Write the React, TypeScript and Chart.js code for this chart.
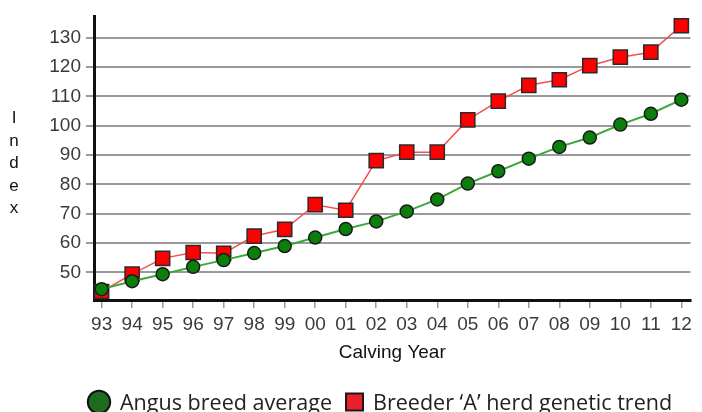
import { useEffect, useRef } from 'react';
import { Chart, registerables } from 'chart.js';

Chart.register(...registerables);

const years = ['93', '94', '95', '96', '97', '98', '99', '00', '01', '02', '03', '04', '05', '06', '07', '08', '09', '10', '11', '12'];
const angusAverage = [44.3, 47.0, 49.4, 51.9, 54.2, 56.6, 59.0, 61.9, 64.8, 67.4, 70.8, 74.9, 80.3, 84.5, 88.8, 92.8, 96.0, 100.4, 104.1, 108.9];
const breederA = [43.5, 49.4, 54.8, 56.8, 56.5, 62.4, 64.7, 73.1, 71.2, 88.1, 91.0, 91.0, 102.0, 108.4, 113.8, 115.7, 120.5, 123.4, 125.1, 134.1];
const seriesNames = ['Angus breed average', 'Breeder \u2018A\u2019 herd genetic trend'];
const xTitle = 'Calving Year';
const yTitle = 'Index';
const yStep = 10;
const yMin = 40.6;
const yMax = 137.3;

const SANS = '"Liberation Sans", Arial, Helvetica, sans-serif';
const LEGEND_FONT = '"Open Sans", "Noto Sans", sans-serif';

function fitFont(ctx: CanvasRenderingContext2D, text: string, family: string, target: number) {
  ctx.font = `20px ${family}`;
  const w = ctx.measureText(text).width;
  return (20 * target) / w;
}

const decorPlugin = {
  id: 'decor',
  afterDraw(chart: any) {
    const ctx: CanvasRenderingContext2D = chart.ctx;
    ctx.save();
    // vertical stacked y title
    ctx.fillStyle = '#111';
    ctx.font = `17px ${SANS}`;
    ctx.textAlign = 'center';
    ctx.textBaseline = 'alphabetic';
    yTitle.split('').forEach((ch, i) => ctx.fillText(ch, 14, 123 + i * 22.5));

    // legend
    const cy = 402;
    ctx.beginPath();
    ctx.arc(99, cy, 11.2, 0, Math.PI * 2);
    ctx.fillStyle = '#1d6b1f';
    ctx.fill();
    ctx.lineWidth = 2;
    ctx.strokeStyle = '#111';
    ctx.stroke();

    ctx.beginPath();
    ctx.rect(346, 393.5, 17, 17);
    ctx.fillStyle = '#e8202a';
    ctx.fill();
    ctx.lineWidth = 2;
    ctx.strokeStyle = '#1a1a1a';
    ctx.stroke();

    ctx.fillStyle = '#222';
    ctx.textAlign = 'left';
    const s1 = fitFont(ctx, seriesNames[0], LEGEND_FONT, 201);
    const s2 = fitFont(ctx, seriesNames[1], LEGEND_FONT, 307);
    const s = (s1 + s2 * 2) / 3;
    ctx.font = `${s}px ${LEGEND_FONT}`;
    ctx.fillText(seriesNames[0], 120, 409.5);
    ctx.fillText(seriesNames[1], 373, 409.5);
    ctx.restore();
  },
};

export default function App() {
  const ref = useRef<HTMLCanvasElement | null>(null);

  useEffect(() => {
    if (!ref.current) return;
    const chart = new Chart(ref.current, {
      type: 'line',
      data: {
        datasets: [
          {
            label: seriesNames[0],
            data: angusAverage.map((v, i) => ({ x: i, y: v })),
            borderColor: '#3aa83a',
            borderWidth: 2,
            backgroundColor: '#0b7f0b',
            pointStyle: 'circle',
            pointRadius: 6.5,
            pointBorderColor: '#1a1a1a',
            pointBorderWidth: 1.5,
            pointBackgroundColor: '#0b7f0b',
            tension: 0,
            clip: false as any,
          },
          {
            label: seriesNames[1],
            data: breederA.map((v, i) => ({ x: i, y: v })),
            borderColor: '#f25050',
            borderWidth: 1.5,
            backgroundColor: '#ff0000',
            pointStyle: 'rect',
            pointRadius: 10,
            pointBorderColor: '#2a2a2a',
            pointBorderWidth: 1.5,
            pointBackgroundColor: '#ff0000',
            tension: 0,
            clip: false as any,
          },
        ],
      },
      options: {
        animation: false,
        responsive: false,
        maintainAspectRatio: false,
        devicePixelRatio: 1,
        layout: { padding: { left: 0, top: 16, right: 10, bottom: 0 } },
        plugins: {
          legend: { display: false },
          tooltip: { enabled: false },
          title: { display: false },
        },
        scales: {
          x: {
            type: 'linear',
            min: -0.25,
            max: 19.3,
            afterFit: (s: any) => {
              s.height = 112;
            },
            grid: { drawOnChartArea: false, drawTicks: true, tickLength: 8, color: '#9a9a9a', lineWidth: 1.5 },
            border: { display: true, color: '#111', width: 3 },
            ticks: {
              stepSize: 1,
              autoSkip: false,
              maxRotation: 0,
              includeBounds: false,
              padding: 5,
              color: '#3a3a3a',
              font: { family: SANS, size: 19 },
              callback: (v: any) => years[Math.round(Number(v))] ?? '',
            },
            title: {
              display: true,
              text: xTitle,
              color: '#111',
              font: { family: SANS, size: 19 },
              padding: { top: 0, bottom: 47.6 },
            },
          },
          y: {
            type: 'linear',
            min: yMin,
            max: yMax,
            afterFit: (s: any) => {
              s.width = 94;
            },
            grid: { color: '#9a9a9a', lineWidth: 2, tickLength: 8, drawTicks: true },
            border: { display: true, color: '#111', width: 3 },
            ticks: {
              stepSize: yStep,
              includeBounds: false,
              padding: 5,
              color: '#3a3a3a',
              font: { family: SANS, size: 19 },
            },
          },
        },
      },
      plugins: [decorPlugin],
    } as any);
    return () => chart.destroy();
  }, []);

  return (
    <div style={{ position: 'absolute', left: 0, top: 0, width: 702, height: 412 }}>
      <canvas ref={ref} width={702} height={412} style={{ display: 'block' }} />
    </div>
  );
}
